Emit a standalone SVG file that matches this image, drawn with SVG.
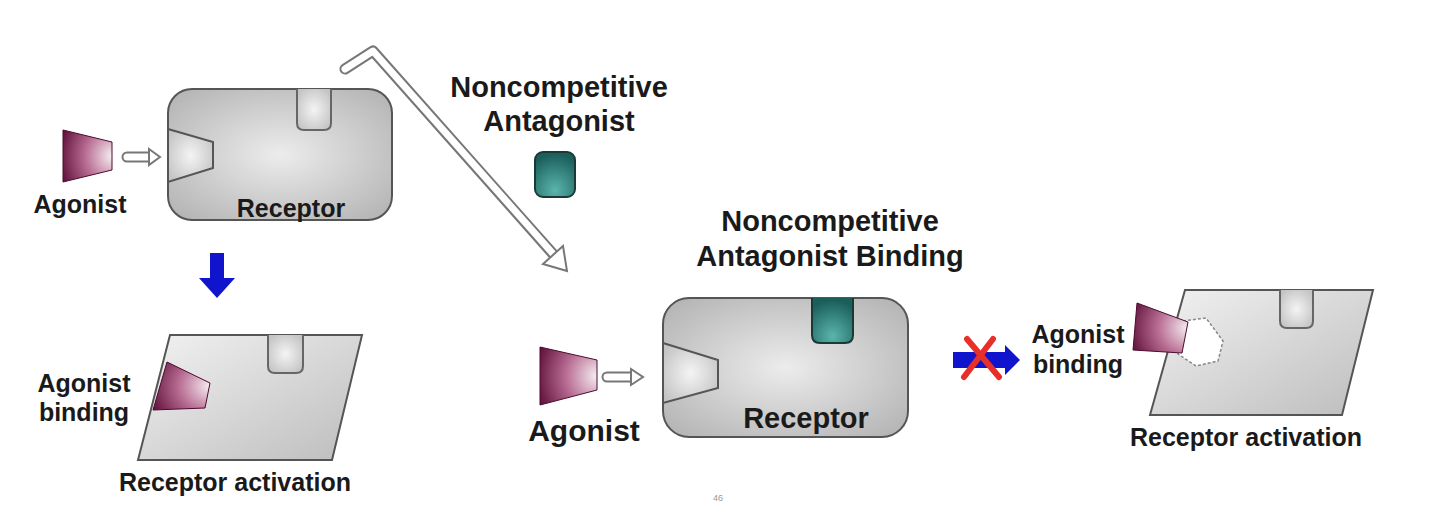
<svg xmlns="http://www.w3.org/2000/svg" width="1440" height="521" viewBox="0 0 1440 521">
<defs>
<radialGradient id="recG" cx="0.5" cy="0.5" r="0.65">
<stop offset="0" stop-color="#ececec"/><stop offset="1" stop-color="#b5b5b5"/>
</radialGradient>
<linearGradient id="parG" x1="0" y1="0" x2="1" y2="1">
<stop offset="0" stop-color="#f2f2f2"/><stop offset="1" stop-color="#bdbdbd"/>
</linearGradient>
<radialGradient id="pocketG" cx="0.5" cy="0.5" r="0.6">
<stop offset="0" stop-color="#f4f4f4"/><stop offset="1" stop-color="#c4c4c4"/>
</radialGradient>
<radialGradient id="agoG" cx="1" cy="0.5" r="1.1">
<stop offset="0" stop-color="#f6eef2"/><stop offset="0.5" stop-color="#b86c92"/><stop offset="1" stop-color="#5e0f3a"/>
</radialGradient>
<radialGradient id="tealG" cx="0.5" cy="0.85" r="0.8">
<stop offset="0" stop-color="#5ab5ad"/><stop offset="1" stop-color="#1b5f5b"/>
</radialGradient>
<style>
.rec{fill:url(#recG);stroke:#555;stroke-width:2}
.par{fill:url(#parG);stroke:#555;stroke-width:2}
.pocket{fill:url(#pocketG);stroke:#555;stroke-width:2}
.notch{fill:url(#pocketG);stroke:#666;stroke-width:2}
.teal{fill:url(#tealG);stroke:#1a3a38;stroke-width:2}
.ago{fill:url(#agoG);stroke:#4a0c2e;stroke-width:1}
.t{font-family:"Liberation Sans",Arial,sans-serif;font-weight:bold;fill:#1a1a1a;text-anchor:middle}
.s25{font-size:25px}.s29{font-size:29px}.s30{font-size:30px}
.hollowOut{fill:none;stroke:#777;stroke-width:11;stroke-linejoin:round;stroke-linecap:round}
.hollowIn{fill:none;stroke:#fff;stroke-width:7;stroke-linejoin:round;stroke-linecap:round}
.head{fill:#fff;stroke:#777;stroke-width:2;stroke-linejoin:miter}
.blue{fill:#1014cc}
</style>
</defs>

<g id="agonist1">
<polygon class="ago" points="63,130 112,142 112,170 63,182"/>
<text class="t s25" x="80" y="213">Agonist</text>
</g>

<g id="receptor1">
<rect class="rec" x="168" y="89" width="224" height="131" rx="24"/>
<polygon class="pocket" points="168,129 213,142 213,168 168,182"/>
<path class="notch" d="M297,89 V123 Q297,130 304,130 H324 Q331,130 331,123 V89"/>
<text class="t s25" x="291" y="217">Receptor</text>
</g>

<g id="antagonist">
<text class="t s29" x="559" y="97">Noncompetitive</text>
<text class="t s29" x="559" y="131">Antagonist</text>
<rect class="teal" x="535" y="152" width="40" height="45" rx="8"/>
</g>

<g id="activation1">
<polygon class="par" points="170,335 362,335 332,460 138,460"/>
<path class="notch" d="M268,335 V366 Q268,373 275,373 H296 Q303,373 303,366 V335"/>
<polygon class="ago" points="167,362 210,383 205,408 153,410"/>
<text class="t s25" x="84" y="392">Agonist</text>
<text class="t s25" x="84" y="421">binding</text>
<text class="t s25" x="235" y="491">Receptor activation</text>
</g>

<g id="binding-title">
<text class="t s29" x="830" y="231">Noncompetitive</text>
<text class="t s29" x="830" y="266">Antagonist Binding</text>
</g>

<g id="agonist2">
<polygon class="ago" points="540,347 597,360 597,390 540,405"/>
<text class="t s30" x="584" y="441">Agonist</text>
</g>

<g id="receptor2">
<rect class="rec" x="663" y="298" width="245" height="139" rx="26"/>
<polygon class="pocket" points="663,343 718,360 718,388 663,403"/>
<path class="teal" d="M812,298 V335 Q812,343 820,343 H845 Q853,343 853,335 V298"/>
<text class="t s29" x="806" y="428">Receptor</text>
</g>

<g id="activation2">
<polygon class="par" points="1185,290 1373,290 1342,415 1150,415"/>
<path class="notch" d="M1280,290 V321 Q1280,328 1287,328 H1306 Q1313,328 1313,321 V290"/>
<polygon points="1183,321 1206,318 1223,341 1218,361 1196,366 1178,354" fill="#fff" stroke="#888" stroke-width="1.5" stroke-dasharray="3 2"/>
<polygon class="ago" points="1137,303 1188,322 1182,353 1133,350"/>
<text class="t s25" x="1078" y="343">Agonist</text>
<text class="t s25" x="1078" y="373">binding</text>
<text class="t s25" x="1246" y="446">Receptor activation</text>
</g>

<g id="connectors">
<path class="hollowOut" d="M127,157 H150"/>
<path class="hollowIn" d="M127,157 H152"/>
<polygon class="head" points="149,149 160,157 149,165"/>

<path class="hollowOut" d="M607,377 H632"/>
<path class="hollowIn" d="M607,377 H634"/>
<polygon class="head" points="631,369 643,377 631,385"/>

<path class="hollowOut" d="M345,69 L373,51 L553,254"/>
<path class="hollowIn" d="M345,69 L373,51 L555,256"/>
<polygon class="head" points="567,271 543,264 563,246"/>

<polygon class="blue" points="210,253 224,253 224,278 235,278 217,298 199,278 210,278"/>

<polygon class="blue" points="953,352 1005,352 1005,345 1020,360 1005,375 1005,368 953,368"/>
<g stroke="#e8302a" stroke-width="6" stroke-linecap="round">
<line x1="967" y1="339" x2="999" y2="377"/>
<line x1="993" y1="339" x2="964" y2="377"/>
</g>
</g>

<text x="718" y="501" font-family="Liberation Sans,Arial,sans-serif" font-size="9" fill="#999" text-anchor="middle">46</text>
</svg>
